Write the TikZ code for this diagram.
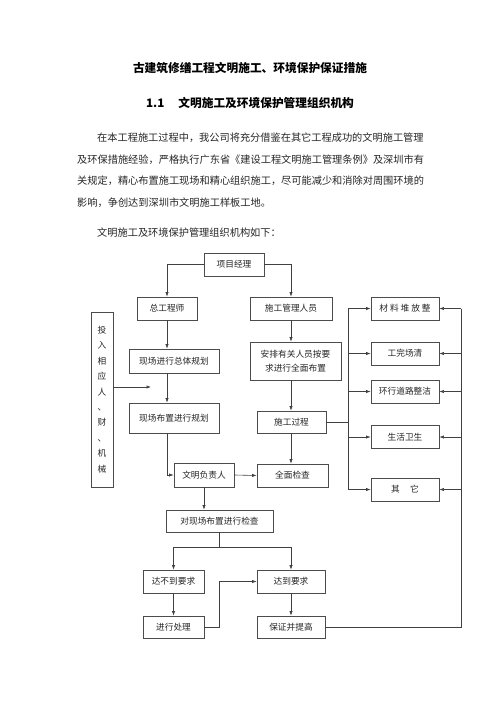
\documentclass[tikz,border=0pt]{standalone}
\usepackage{fontspec}
\setmainfont{Noto Sans CJK SC}
\usepackage{tikz}
\usetikzlibrary{arrows.meta}

\begin{document}
\begin{tikzpicture}[x=1pt,y=-1pt,
    box/.style={shape=rectangle, draw=black!70, line width=0.7pt, inner sep=0pt,
        font=\fontsize{8.7}{11}\selectfont, text=black!85},
    arr/.style={draw=black!75, line width=0.6pt, -{Latex[length=4.5pt,width=3.2pt]}},
    ln/.style={draw=black!75, line width=0.6pt},
    txt/.style={anchor=west, inner sep=0pt, font=\fontsize{10.2}{12}\selectfont, text=black!85}]
    \useasboundingbox[fill=white] (0,0) rectangle (500,707);

    % headings and text above the chart
    \node[inner sep=0pt, font=\bfseries\fontsize{11.7}{14}\selectfont] (title) at (250,68) {古建筑修缮工程文明施工、环境保护保证措施};
    \node[inner sep=0pt, font=\bfseries\fontsize{11.7}{14}\selectfont] (sec) at (250,103) {1.1\hspace{1.2em}文明施工及环境保护管理组织机构};
    \node[txt] (p1) at (97,138) {在本工程施工过程中，我公司将充分借鉴在其它工程成功的文明施工管理};
    \node[txt] (p2) at (77,160) {及环保措施经验，严格执行广东省《建设工程文明施工管理条例》及深圳市有};
    \node[txt] (p3) at (77,181) {关规定，精心布置施工现场和精心组织施工，尽可能减少和消除对周围环境的};
    \node[txt] (p4) at (77,203) {影响，争创达到深圳市文明施工样板工地。};
    \node[txt] (p5) at (97,233) {文明施工及环境保护管理组织机构如下：};

    % boxes
    \node[box, minimum width=60pt, minimum height=23pt] (mgr) at (234,264.5) {项目经理};
    \node[box, minimum width=60pt, minimum height=23pt] (chief) at (167,308.5) {总工程师};
    \node[box, minimum width=82pt, minimum height=23pt] (staff) at (291,308.5) {施工管理人员};
    \node[box, minimum width=22pt, minimum height=175pt, align=center,
        font=\fontsize{8.7}{15.4}\selectfont] (invest) at (102,399.5)
        {投\\入\\相\\应\\人\\、\\财\\、\\机\\械};
    \node[box, minimum width=90pt, minimum height=24pt] (plan) at (174,361) {现场进行总体规划};
    \node[box, minimum width=91pt, minimum height=38pt, align=center,
        font=\fontsize{8.7}{14}\selectfont] (arrange) at (295.5,361) {安排有关人员按要\\求进行全面布置};
    \node[box, minimum width=90pt, minimum height=30pt] (layout) at (174,418) {现场布置进行规划};
    \node[box, minimum width=69pt, minimum height=22pt] (proc) at (291.5,422) {施工过程};
    \node[box, minimum width=60pt, minimum height=24pt] (resp) at (204,475) {文明负责人};
    \node[box, minimum width=71pt, minimum height=23pt] (check) at (292.5,475.5) {全面检查};
    \node[box, minimum width=107pt, minimum height=22pt] (insp) at (219.5,521) {对现场布置进行检查};
    \node[box, minimum width=61pt, minimum height=23pt] (fail) at (173.5,581.5) {达不到要求};
    \node[box, minimum width=68pt, minimum height=23pt] (pass) at (291,581.5) {达到要求};
    \node[box, minimum width=61pt, minimum height=22pt] (handle) at (173.5,627) {进行处理};
    \node[box, minimum width=68pt, minimum height=22pt] (keep) at (291,627) {保证并提高};

    \node[box, minimum width=68pt, minimum height=23pt] (r1) at (405,308.5) {材 料 堆 放 整};
    \node[box, minimum width=68pt, minimum height=23pt] (r2) at (405,353.5) {工完场清};
    \node[box, minimum width=68pt, minimum height=23pt] (r3) at (405,391.5) {环行道路整洁};
    \node[box, minimum width=68pt, minimum height=23pt] (r4) at (405,437) {生活卫生};
    \node[box, minimum width=68pt, minimum height=23pt] (r5) at (405,489.5) {其\hspace{1.2em}它};

    \coordinate (gap) at (151,387);
    \coordinate (split) at (219.5,547);
    \coordinate (lbus) at (348,308.5);
    \coordinate (rbus) at (461,308.5);

    % connectors
    \draw[arr] (mgr.west) -| (chief.north);
    \draw[arr] (mgr.east) -| (staff.north);
    \draw[arr] (chief.south) -- (chief.south |- plan.north);
    \draw[arr] (chief.south |- plan.south) -- (chief.south |- layout.north);
    \draw[arr] (chief.south |- layout.south) |- (resp.west);
    \draw[arr] (invest.east |- gap) -- (gap);
    \draw[arr] (staff.south) -- (staff.south |- arrange.north);
    \draw[arr] (staff.south |- arrange.south) -- (staff.south |- proc.north);
    \draw[arr] (staff.south |- proc.south) -- (staff.south |- check.north);
    \draw[arr] (resp.east) -- (check.west);
    \draw[arr] (resp.south) -- (resp.south |- insp.north);
    \draw[ln] (insp.south) -- (split);
    \draw[arr] (split) -| (fail.north);
    \draw[arr] (split) -| (pass.north);
    \draw[arr] (fail.south) -- (handle.north);
    \draw[arr] (pass.south) -- (keep.north);
    \draw[arr] (handle.east) -- ++(15,0) |- (pass.west);

    \draw[ln] (proc.east) -- (proc.east -| lbus);
    \draw[ln] (lbus) -- (lbus |- r5.west);
    \draw[ln] (keep.east) -| (rbus);
    \foreach \b in {r1,r2,r3,r4,r5} {
        \draw[arr] (\b.west -| lbus) -- (\b.west);
        \draw[arr] (\b.east -| rbus) -- (\b.east);
    }
\end{tikzpicture}
\end{document}
